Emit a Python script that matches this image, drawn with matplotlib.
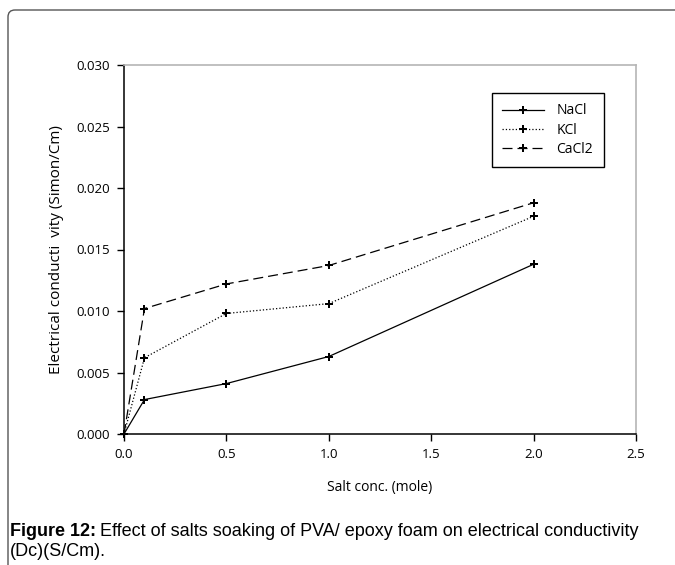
#!/usr/bin/env python3

import matplotlib
matplotlib.use('Agg')
import matplotlib.pyplot as plt
from matplotlib.patches import FancyBboxPatch
from matplotlib.transforms import IdentityTransform

# salt concentration (mole) and measured conductivity (S/cm)
conc = [0.0, 0.1, 0.5, 1.0, 2.0]
nacl = [0.0, 0.0028, 0.0041, 0.0063, 0.0138]
kcl = [0.0, 0.0062, 0.0098, 0.0106, 0.0177]
cacl2 = [0.0, 0.0102, 0.0122, 0.0137, 0.0188]

series_names = ['NaCl', 'KCl', 'CaCl2']
x_ticks = [0.0, 0.5, 1.0, 1.5, 2.0, 2.5]
y_ticks = [0.000, 0.005, 0.010, 0.015, 0.020, 0.025, 0.030]


def main():
    W, H = 675, 565
    fig = plt.figure(figsize=(W / 100, H / 100), dpi=100)
    fig.patch.set_facecolor('white')

    # outer frame, only the rounded top-left corner shows
    frame = FancyBboxPatch((8, -40), 720, H - 10 + 40,
                           boxstyle='round,pad=0,rounding_size=7',
                           transform=IdentityTransform(),
                           fill=False, edgecolor='#555555', linewidth=1.0)
    fig.patches.append(frame)

    ax = fig.add_axes([124 / W, 1 - 434 / H, (636 - 124) / W, (434 - 65) / H])

    axis_font = 'Open Sans'
    styles = [('-', None), (':', None), ('--', (0, (8, 4)))]
    for name, ys, (ls, dash) in zip(series_names, [nacl, kcl, cacl2], styles):
        line, = ax.plot(conc, ys, linestyle=ls, color='black', linewidth=0.9,
                        marker='P', markersize=5.5, markeredgewidth=0,
                        markerfacecolor='black', label=name, clip_on=False)
        if dash is not None:
            line.set_linestyle(dash)

    ax.set_xlim(0, 2.5)
    ax.set_ylim(0, 0.030)
    ax.set_xticks(x_ticks)
    ax.set_yticks(y_ticks)
    ax.set_xticklabels(['{:.1f}'.format(t) for t in x_ticks], fontfamily=axis_font, fontsize=9.5)
    ax.set_yticklabels(['{:.3f}'.format(t) for t in y_ticks], fontfamily=axis_font, fontsize=9.5)
    ax.tick_params(direction='out', length=5, width=1, color='black', pad=5)

    for side in ('left', 'bottom'):
        ax.spines[side].set_color('black')
        ax.spines[side].set_linewidth(1.1)
    for side in ('top', 'right'):
        ax.spines[side].set_color('#b5b5b5')
        ax.spines[side].set_linewidth(1.2)

    ax.set_xlabel('Salt conc. (mole)', fontfamily=axis_font, fontsize=10, labelpad=14)
    ax.set_ylabel('Electrical conducti  vity (Simon/Cm)', fontfamily=axis_font,
                  fontsize=11, labelpad=9)

    leg = ax.legend(loc='upper left', bbox_to_anchor=(492 / W, 1 - 93 / H),
                    bbox_transform=fig.transFigure, fancybox=False,
                    edgecolor='black', framealpha=1, handlelength=3.0,
                    borderpad=0.75, labelspacing=0.3, handletextpad=0.9,
                    borderaxespad=0, prop={'family': axis_font, 'size': 10})
    leg.get_frame().set_linewidth(1.0)

    # caption under the chart
    cap_font = ['Liberation Sans Narrow', 'Liberation Sans', 'DejaVu Sans']
    t1 = fig.text(10 / W, 1 - 532 / H, 'Figure 12:', fontsize=13, fontweight='bold',
                  family=cap_font, va='center', ha='left')
    fig.canvas.draw()
    bb = t1.get_window_extent()
    fig.text((bb.x1 + 4) / W, 1 - 532 / H,
             'Effect of salts soaking of PVA/ epoxy foam on electrical conductivity',
             fontsize=13, family=cap_font, va='center', ha='left')
    fig.text(10 / W, 1 - 551 / H, '(Dc)(S/Cm).', fontsize=13, family=cap_font,
             va='center', ha='left')

    plt.savefig('out.png', dpi=100)


if __name__ == "__main__":
    main()
